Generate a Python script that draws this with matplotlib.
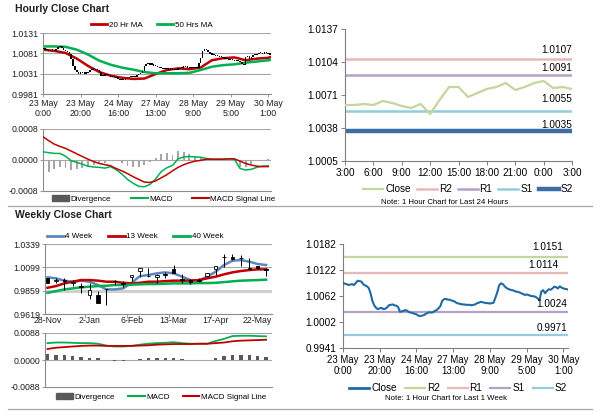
import matplotlib
matplotlib.use("Agg")
import matplotlib.pyplot as plt
from matplotlib import font_manager
from matplotlib.lines import Line2D
from matplotlib.patches import Patch
import numpy as np

# ---------------- data ----------------
# hourly closes, 23 May 0:00 .. 30 May 2:00 (trading hours)
hourly_close = [
    1.0092, 1.0090, 1.0089, 1.0087, 1.0088, 1.0089, 1.0087, 1.0092, 1.0097, 1.0096,
    1.0095, 1.0089, 1.0086, 1.0084, 1.0080, 1.0068, 1.0050, 1.0040, 1.0034, 1.0031,
    1.0033, 1.0034, 1.0031, 1.0032, 1.0035, 1.0040, 1.0041, 1.0042, 1.0040, 1.0039,
    1.0036, 1.0025, 1.0026, 1.0027, 1.0029, 1.0027, 1.0024, 1.0023, 1.0022, 1.0020,
    1.0019, 1.0016, 1.0015, 1.0016, 1.0017, 1.0020, 1.0022, 1.0024, 1.0023, 1.0024,
    1.0027, 1.0029, 1.0033, 1.0038, 1.0050, 1.0054, 1.0055, 1.0053, 1.0053, 1.0051,
    1.0050, 1.0048, 1.0045, 1.0044, 1.0043, 1.0042, 1.0042, 1.0041, 1.0041, 1.0041,
    1.0040, 1.0041, 1.0042, 1.0045, 1.0046, 1.0048, 1.0047, 1.0046, 1.0045, 1.0045,
    1.0044, 1.0045, 1.0046, 1.0058, 1.0070, 1.0086, 1.0091, 1.0089, 1.0084, 1.0080,
    1.0078, 1.0076, 1.0075, 1.0074, 1.0072, 1.0071, 1.0070, 1.0068, 1.0066, 1.0064,
    1.0065, 1.0064, 1.0062, 1.0061, 1.0061, 1.0059, 1.0056, 1.0052, 1.0072, 1.0075,
    1.0068, 1.0073, 1.0077, 1.0076, 1.0079, 1.0083, 1.0082, 1.0079, 1.0084, 1.0081,
    1.0079, 1.0078, 1.0077,
]
hour_tick_pos = [0, 20, 40, 60, 80, 100, 120]
hour_tick_labels = ["23 May\n0:00", "23 May\n20:00", "24 May\n16:00", "27 May\n13:00",
                    "28 May\n9:00", "29 May\n5:00", "30 May\n1:00"]

ma_hours = [0, 6, 12, 18, 24, 30, 36, 42, 48, 54, 60, 66, 72, 78, 84, 90, 96, 102, 108, 114, 120, 121.5]
ma20 = [1.0090, 1.0087, 1.0082, 1.0068, 1.0050, 1.0035, 1.0026, 1.0021, 1.0018, 1.0019, 1.0030,
        1.0040, 1.0044, 1.0042, 1.0046, 1.0064, 1.0069, 1.0071, 1.0064, 1.0068, 1.0070, 1.0072]
ma50 = [1.0098, 1.0098, 1.0097, 1.0090, 1.0078, 1.0063, 1.0053, 1.0046, 1.0041, 1.0035, 1.0032,
        1.0032, 1.0032, 1.0033, 1.0040, 1.0048, 1.0052, 1.0054, 1.0058, 1.0061, 1.0064, 1.0065]

macd_hours = list(range(0, 121, 3))
macd_h = [0.00021, 0.00019, 0.00017, 0.00017, 0.00010, -0.00002, -0.00006, -0.00011, -0.00016,
          -0.00018, -0.00019, -0.00021, -0.00017, -0.00025, -0.00036, -0.00050, -0.00060, -0.00068,
          -0.00069, -0.00063, -0.00049, -0.00030, -0.00020, -0.00014, 0.00003, 0.00008, 0.00009,
          0.00008, 0.00007, 0.00004, 0.00002, 0.00002, 0.00002, 0.00003, 0.00002, -0.00022,
          -0.00026, -0.00024, -0.00019, -0.00016, -0.00015]
signal_h = [0.00060, 0.00050, 0.00041, 0.00035, 0.00030, 0.00023, 0.00016, 0.00009, 0.00002,
            -0.00004, -0.00009, -0.00012, -0.00015, -0.00022, -0.00028, -0.00035, -0.00043, -0.00050,
            -0.00057, -0.00058, -0.00054, -0.00046, -0.00038, -0.00028, -0.00019, -0.00012, -0.00007,
            -0.00003, -0.00001, 0.00002, 0.00002, 0.00002, 0.00002, 0.00003, 0.00003, -0.00003,
            -0.00009, -0.00013, -0.00016, -0.00017, -0.00017]

# last 24 hours
day_close = [1.0061, 1.0061, 1.0062, 1.0061, 1.0065, 1.0063, 1.0060, 1.0058, 1.0062, 1.0052,
             1.0066, 1.0079, 1.0079, 1.0069, 1.0073, 1.0077, 1.0079, 1.0083, 1.0076, 1.0079,
             1.0083, 1.0085, 1.0078, 1.0079, 1.0077]
day_tick_labels = ["3:00", "6:00", "9:00", "12:00", "15:00", "18:00", "21:00", "0:00", "3:00"]
day_levels = {"R2": 1.0107, "R1": 1.0091, "S1": 1.0055, "S2": 1.0035}
week_levels = {"R2": 1.0151, "R1": 1.0114, "S1": 1.0024, "S2": 0.9971}

# weekly candles 28-Nov .. 29-May
wk_open = [0.9985, 0.9955, 0.9965, 0.9935, 0.9905, 0.9815, 0.9815, 0.9880, 0.9960, 0.9935,
           0.9995, 1.0064, 1.0010, 0.9995, 1.0030, 1.0078, 0.9975, 0.9965, 0.9965, 1.0009,
           1.0085, 1.0210, 1.0210, 1.0200, 1.0092, 1.0112, 1.0080]
wk_high = [0.9990, 0.9990, 0.9985, 0.9970, 0.9935, 0.9935, 0.9855, 0.9880, 0.9970, 0.9955,
           1.0020, 1.0089, 1.0089, 1.0035, 1.0050, 1.0120, 1.0030, 0.9975, 0.9985, 1.0040,
           1.0112, 1.0236, 1.0240, 1.0225, 1.0200, 1.0115, 1.0090]
wk_low = [0.9935, 0.9935, 0.9870, 0.9910, 0.9830, 0.9775, 0.9735, 0.9710, 0.9920, 0.9900,
          0.9960, 1.0000, 1.0000, 0.9940, 0.9990, 1.0043, 0.9935, 0.9925, 0.9950, 1.0005,
          1.0020, 1.0105, 1.0175, 1.0110, 1.0075, 1.0085, 1.0010]
wk_close = [0.9940, 0.9965, 0.9960, 0.9950, 0.9900, 0.9870, 0.9735, 0.9875, 0.9955, 0.9930,
            1.0020, 1.0089, 1.0005, 1.0020, 1.0025, 1.0043, 0.9970, 0.9945, 0.9960, 1.0037,
            1.0112, 1.0205, 1.0185, 1.0195, 1.0087, 1.0089, 1.0075]
ma4w = [0.9996, 0.9986, 0.9962, 0.9951, 0.9962, 0.9951, 0.9917, 0.9872, 0.9872, 0.9883,
        0.9940, 1.0009, 1.0020, 1.0037, 1.0047, 1.0037, 1.0003, 0.9968, 0.9962, 1.0003,
        1.0054, 1.0123, 1.0167, 1.0174, 1.0157, 1.0133, 1.0123]
ma13w = [0.9889, 0.9906, 0.9934, 0.9951, 0.9968, 0.9968, 0.9962, 0.9951, 0.9951, 0.9940,
         0.9934, 0.9940, 0.9951, 0.9951, 0.9957, 0.9962, 0.9962, 0.9962, 0.9968, 0.9986,
         1.0003, 1.0027, 1.0047, 1.0061, 1.0071, 1.0078, 1.0078]
ma40w = [0.9837, 0.9854, 0.9872, 0.9883, 0.9893, 0.9900, 0.9906, 0.9910, 0.9917, 0.9917,
         0.9920, 0.9924, 0.9927, 0.9927, 0.9931, 0.9934, 0.9934, 0.9934, 0.9937, 0.9937,
         0.9940, 0.9947, 0.9955, 0.9962, 0.9965, 0.9968, 0.9972]
week_tick_labels = ["28-Nov", "2-Jan", "6-Feb", "13-Mar", "17-Apr", "22-May"]
macd_w = [0.0055, 0.0057, 0.0057, 0.0056, 0.0055, 0.0055, 0.0053, 0.0047, 0.0044, 0.0044,
          0.0046, 0.0050, 0.0053, 0.0055, 0.0056, 0.0058, 0.0055, 0.0053, 0.0053, 0.0053,
          0.0062, 0.0069, 0.0078, 0.0079, 0.0079, 0.0078, 0.0077]
signal_w = [0.0036, 0.0040, 0.0042, 0.0044, 0.0046, 0.0047, 0.0047, 0.0046, 0.0046, 0.0046,
            0.0046, 0.0047, 0.0048, 0.0050, 0.0051, 0.0052, 0.0052, 0.0052, 0.0053, 0.0053,
            0.0055, 0.0057, 0.0061, 0.0063, 0.0064, 0.0065, 0.0066]

# ---------------- style ----------------
names = {f.name for f in font_manager.fontManager.ttflist}
base = "Liberation Sans" if "Liberation Sans" in names else "DejaVu Sans"
if "Liberation Sans Narrow" in names:
    narrow, nsize, lsize = "Liberation Sans Narrow", 8, 6.5
else:
    narrow, nsize, lsize = base, 7.2, 5.8
plt.rcParams["font.family"] = [base, "DejaVu Sans"]

RED, GREEN, BLUE = "#c00000", "#00b050", "#5b87c0"
GRID, SPINE, TXT = "#a6a6a6", "#8c8c8c", "#1e1e1e"
W, H = 600, 413
fig = plt.figure(figsize=(6, 4.13), dpi=100)


def px_axes(x0, y0, x1, y1):
    return fig.add_axes([x0 / W, 1 - y1 / H, (x1 - x0) / W, (y1 - y0) / H])


def left_style(ax, fs=6.3):
    for s in ("top", "right"):
        ax.spines[s].set_visible(False)
    for s in ("left", "bottom"):
        ax.spines[s].set_color(SPINE)
        ax.spines[s].set_linewidth(0.8)
    ax.tick_params(labelsize=fs, colors=SPINE, labelcolor=TXT, length=2, width=0.6, pad=1.5)
    ax.set_facecolor("none")


def right_style(ax, xsize=None):
    for s in ("top", "right"):
        ax.spines[s].set_visible(False)
    for s in ("left", "bottom"):
        ax.spines[s].set_color("#7f7f7f")
        ax.spines[s].set_linewidth(0.8)
    ax.tick_params(colors="#7f7f7f", labelcolor="black", length=3, width=0.7, pad=2)
    for lab in ax.get_yticklabels():
        lab.set_fontfamily(narrow)
        lab.set_fontsize(nsize)
    for lab in ax.get_xticklabels():
        lab.set_fontfamily(narrow)
        lab.set_fontsize(xsize or nsize)


def legend(handles, labels, cx, cy, fs, family=None, cs=2.0, hl=2.0):
    prop = {"size": fs}
    if family:
        prop["family"] = family
    fig.legend(handles, labels, loc="center", bbox_to_anchor=(cx / W, 1 - cy / H),
               ncol=len(labels), frameon=False, prop=prop, handlelength=hl,
               handletextpad=0.2, columnspacing=cs, borderaxespad=0, borderpad=0)


# ---------------- hourly close chart ----------------
fig.text(15 / W, 1 - 9 / H, "Hourly Close Chart", fontsize=7.5, fontweight="bold",
         va="center", color=TXT)
ax1 = px_axes(43, 33, 271, 94)
left_style(ax1)
hrs = np.arange(len(hourly_close))
hc = np.array(hourly_close)
ho = np.r_[hc[0], hc[:-1]]
ax1.bar(hrs, np.maximum(np.abs(hc - ho), 0.0003), bottom=np.minimum(hc, ho),
        width=0.8, color="black", zorder=3)
ax1.plot(ma_hours, ma20, color=RED, lw=1.8, zorder=2)
ax1.plot(ma_hours, ma50, color=GREEN, lw=1.8, zorder=2)
ax1.set_xlim(0, 121.5)
ax1.set_ylim(0.9981, 1.0131)
ax1.set_yticks([0.9981, 1.0031, 1.0081, 1.0131])
ax1.set_yticklabels(["0.9981", "1.0031", "1.0081", "1.0131"])
ax1.yaxis.grid(True, color=GRID, lw=0.8)
ax1.set_axisbelow(True)
ax1.set_xticks(hour_tick_pos)
ax1.set_xticklabels(hour_tick_labels, linespacing=1.15)
legend([Line2D([], [], color=RED, lw=2), Line2D([], [], color=GREEN, lw=2)],
       ["20 Hr MA", "50 Hrs MA"], 152, 25, lsize, cs=1.8, hl=2.0)

ax2 = px_axes(43, 129, 271, 191)
left_style(ax2)
div_h = np.array(macd_h) - np.array(signal_h)
ax2.bar(macd_hours, div_h, width=1.0, color="#a6a6a6", zorder=1)
ax2.plot(macd_hours, macd_h, color=GREEN, lw=1.1, zorder=3)
ax2.plot(macd_hours, signal_h, color=RED, lw=1.1, zorder=3)
ax2.axhline(0, color=GRID, lw=0.8, zorder=0)
ax2.axhline(0.0008, color=GRID, lw=0.8, zorder=0)
ax2.set_xlim(0, 121.5)
ax2.set_ylim(-0.0008, 0.0008)
ax2.set_yticks([-0.0008, 0.0, 0.0008])
ax2.set_yticklabels(["-0.0008", "0.0000", "0.0008"])
ax2.set_xticks([])
legend([Patch(color="#595959"), Line2D([], [], color=GREEN, lw=1.5), Line2D([], [], color=RED, lw=1.5)],
       ["Divergence", "MACD", "MACD Signal Line"], 164, 199, lsize, cs=2.4, hl=2.1)

# ---------------- last 24 hours ----------------
ax3 = px_axes(345, 29, 572, 161)
day_x = np.arange(len(day_close))
ax3.plot(day_x, day_close, color="#c3d69b", lw=1.6, zorder=3)
lvl_style = {"R2": ("#e6b9b8", 1.8), "R1": ("#b3a2c7", 1.8), "S1": ("#93cddd", 1.8), "S2": ("#3c6ea5", 3.2)}
lbl_off = {"R2": 9, "R1": 7, "S1": 12, "S2": 6}
for k, v in day_levels.items():
    c, lw = lvl_style[k]
    ax3.plot([0, 24], [v, v], color=c, lw=lw, zorder=2)
    ax3.annotate(f"{v:.4f}", xy=(24, v), xytext=(0, lbl_off[k] * 0.72), textcoords="offset points",
                 ha="right", va="center", fontsize=nsize, family=narrow, color="black")
ax3.set_xlim(0, 24)
ax3.set_ylim(1.0005, 1.0137)
ax3.set_yticks([1.0005, 1.0038, 1.0071, 1.0104, 1.0137])
ax3.set_yticklabels(["1.0005", "1.0038", "1.0071", "1.0104", "1.0137"])
ax3.set_xticks(range(0, 25, 3))
ax3.set_xticklabels(day_tick_labels)
right_style(ax3)
legend([Line2D([], [], color="#c3d69b", lw=1.6)] +
       [Line2D([], [], color=lvl_style[k][0], lw=lvl_style[k][1]) for k in day_levels],
       ["Close"] + list(day_levels), 468, 189, nsize, family=narrow, cs=0.6, hl=2.0)
fig.text(445 / W, 1 - 203 / H, "Note: 1 Hour Chart for Last 24 Hours", fontsize=5.6,
         family=narrow, ha="center", va="center", color="black")

# separators
for yy in (206, 409):
    fig.add_artist(Line2D([8 / W, 592 / W], [1 - yy / H] * 2, color="#a6a6a6", lw=0.9))

# ---------------- weekly close chart ----------------
fig.text(15 / W, 1 - 214.5 / H, "Weekly Close Chart", fontsize=7.5, fontweight="bold",
         va="center", color=TXT)
ax4 = px_axes(45, 244, 272, 314)
left_style(ax4)
wk = np.arange(len(wk_close))
ax4.plot(wk, ma4w, color=BLUE, lw=1.8, zorder=2)
ax4.plot(wk, ma13w, color=RED, lw=1.8, zorder=2)
ax4.plot(wk, ma40w, color=GREEN, lw=1.8, zorder=2)
ax4.vlines(wk, wk_low, wk_high, color="black", lw=0.7, zorder=3)
for i in wk:
    o, c = wk_open[i], wk_close[i]
    ax4.bar(i, max(abs(c - o), 0.0004), bottom=min(o, c), width=0.42,
            color="white" if c >= o else "black", edgecolor="black", lw=0.6, zorder=4)
ax4.axhline(1.0339, color=GRID, lw=0.8, zorder=0)
ax4.axhline(1.0099, color=GRID, lw=0.8, zorder=0)
ax4.axhline(0.9859, color="#cfcfcf", lw=2.2, zorder=0)
ax4.set_xlim(-0.3, 26.7)
ax4.set_ylim(0.9619, 1.0339)
ax4.set_yticks([0.9619, 0.9859, 1.0099, 1.0339])
ax4.set_yticklabels(["0.9619", "0.9859", "1.0099", "1.0339"])
ax4.set_xticks(range(0, 26, 5))
ax4.set_xticklabels(week_tick_labels)
ax4.tick_params(axis="x", length=0)
ax4.set_xticks([4.5, 9.5, 14.5, 19.5, 24.5], minor=True)
ax4.tick_params(axis="x", which="minor", length=3, width=0.6, colors=SPINE)
legend([Line2D([], [], color=BLUE, lw=2), Line2D([], [], color=RED, lw=2), Line2D([], [], color=GREEN, lw=2)],
       ["4 Week", "13 Week", "40 Week"], 135, 236.5, lsize, cs=1.9, hl=2.1)

ax5 = px_axes(45, 333, 272, 387)
left_style(ax5)
div_w = np.array(macd_w) - np.array(signal_w)
ax5.bar(wk, div_w, width=0.4, color="#595959", zorder=1)
ax5.plot(wk, macd_w, color=GREEN, lw=1.3, zorder=3)
ax5.plot(wk, signal_w, color=RED, lw=1.3, zorder=3)
ax5.axhline(0, color=GRID, lw=0.8, zorder=0)
ax5.axhline(0.0088, color=GRID, lw=0.8, zorder=0)
ax5.set_xlim(-0.3, 26.7)
ax5.set_ylim(-0.0088, 0.0088)
ax5.set_yticks([-0.0088, 0.0, 0.0088])
ax5.set_yticklabels(["-0.0088", "0.0000", "0.0088"])
ax5.set_xticks([])
legend([Patch(color="#595959"), Line2D([], [], color=GREEN, lw=1.5), Line2D([], [], color=RED, lw=1.5)],
       ["Divergence", "MACD", "MACD Signal Line"], 161, 397, lsize, cs=1.6, hl=2.1)

# ---------------- last week hourly ----------------
ax6 = px_axes(343, 244, 568, 348)
ax6.plot(hrs, hourly_close, color="#1f6aa5", lw=1.5, zorder=3)
wlvl_style = {"R2": "#c3d69b", "R1": "#e6b9b8", "S1": "#b3a2c7", "S2": "#93cddd"}
wlbl = {"R2": (-4, 10), "R1": (-9, 8), "S1": (0, 8), "S2": (0, 7.5)}
for k, v in week_levels.items():
    ax6.plot([0, 122], [v, v], color=wlvl_style[k], lw=1.6, zorder=2)
    dx, dy = wlbl[k]
    ax6.annotate(f"{v:.4f}", xy=(122, v), xytext=(dx * 0.72, dy * 0.72), textcoords="offset points",
                 ha="right", va="center", fontsize=nsize, family=narrow, color="black")
ax6.set_xlim(0, 122.5)
ax6.set_ylim(0.9941, 1.0182)
ax6.set_yticks([0.9941, 1.0002, 1.0062, 1.0122, 1.0182])
ax6.set_yticklabels(["0.9941", "1.0002", "1.0062", "1.0122", "1.0182"])
ax6.set_xticks(hour_tick_pos)
ax6.set_xticklabels(hour_tick_labels, linespacing=1.1)
right_style(ax6, xsize=nsize - 0.3)
legend([Line2D([], [], color="#1f6aa5", lw=2)] +
       [Line2D([], [], color=wlvl_style[k], lw=1.6) for k in week_levels],
       ["Close"] + list(week_levels), 458, 388, nsize, family=narrow, cs=0.8, hl=2.0)
fig.text(446 / W, 1 - 398 / H, "Note: 1 Hour Chart for Last 1 Week", fontsize=5.6,
         family=narrow, ha="center", va="center", color="black")

fig.savefig("out.png", dpi=100)
